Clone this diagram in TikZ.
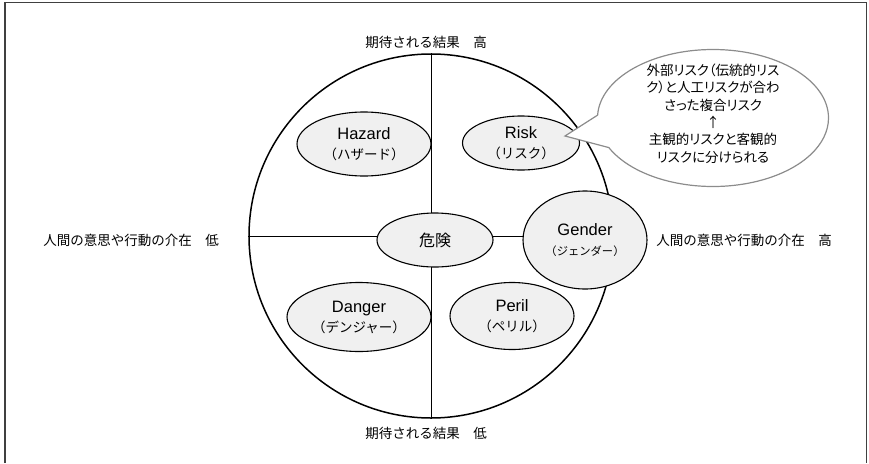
\documentclass[tikz,border=0pt]{standalone}
\usepackage{fontspec}
\setmainfont{Liberation Sans}
\newfontfamily\jp{Noto Sans CJK JP}
\newfontfamily\jpp[RawFeature=+palt]{Noto Sans CJK JP}
\usetikzlibrary{shapes.geometric,shapes.callouts,backgrounds}
\begin{document}
\begin{tikzpicture}[x=1pt,y=-1pt,
  oval/.style={ellipse, draw=black, line width=1.1pt, fill=black!6, inner sep=0pt, align=center, font=\fontsize{16.5}{20}\selectfont},
  axisline/.style={line width=0.9pt},
  jplabel/.style={font=\jp\fontsize{13.5}{17}\selectfont, inner sep=0pt},
]
\useasboundingbox (0,0) rectangle (869,463);
\draw[line width=1.5pt, draw=black!75] (5,463) -- (5,2.5) -- (866.5,2.5) -- (866.5,463);

\node[circle, draw, line width=1.5pt, minimum size=364pt, inner sep=0pt] (big) at (431,236) {};

\node[oval, minimum width=134pt, minimum height=64pt] (hazard) at (364,144)
  {Hazard\\{\jp\fontsize{13.5}{20}\selectfont （ハザード）}};
\node[oval, minimum width=117pt, minimum height=54pt] (risk) at (521,143)
  {Risk\\{\jp\fontsize{13.5}{20}\selectfont （リスク）}};
\node[oval, minimum width=116pt, minimum height=54pt] (kiken) at (435,240)
  {\jp\fontsize{16}{20}\selectfont 危険};
\node[oval, minimum width=124pt, minimum height=98pt] (gender) at (585,240)
  {Gender\\{\jp\fontsize{11.3}{20}\selectfont （ジェンダー）}};
\node[oval, minimum width=144pt, minimum height=69pt] (danger) at (359,317)
  {Danger\\{\jp\fontsize{13.5}{20}\selectfont （デンジャー）}};
\node[oval, minimum width=124pt, minimum height=67pt] (peril) at (512,316)
  {Peril\\{\jp\fontsize{13.5}{20}\selectfont （ペリル）}};

\begin{scope}[on background layer]
  \draw[axisline] (big.north) -- (big.south);
  \draw[axisline] (big.west) -- (big.west -| gender.center);
\end{scope}

\coordinate (tip) at (565,136);
\node[ellipse callout, draw=black!45, line width=1.2pt, fill=white, minimum width=231pt, minimum height=137pt, inner sep=0pt, callout absolute pointer=(tip), callout pointer arc=28] (note) at (713,118) {};
\node[inner sep=0pt, align=center, font=\jpp\fontsize{13.5}{17.4}\selectfont] (notetext) at (713,113.5)
  {外部リスク（伝統的リス\\ク）と人工リスクが合わ\\さった複合リスク\\↑\\主観的リスクと客観的\\リスクに分けられる};

\node[jplabel] (toplabel) at (426,42) {期待される結果　高};
\node[jplabel] (botlabel) at (426,433) {期待される結果　低};
\node[jplabel] (leftlabel) at (131,240) {人間の意思や行動の介在　低};
\node[jplabel] (rightlabel) at (744,240) {人間の意思や行動の介在　高};
\end{tikzpicture}
\end{document}
